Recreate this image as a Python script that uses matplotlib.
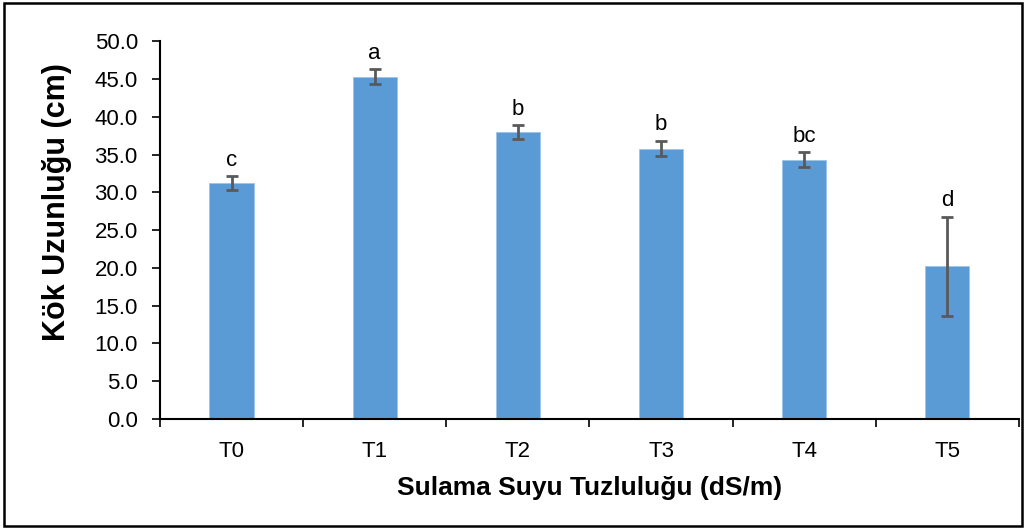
import matplotlib.pyplot as plt
import numpy as np
from matplotlib.patches import Rectangle

plt.rcParams['font.family'] = ['Liberation Sans', 'DejaVu Sans']

categories = ['T0', 'T1', 'T2', 'T3', 'T4', 'T5']
values = [31.2, 45.3, 38.0, 35.8, 34.3, 20.2]
errors = [0.9, 1.0, 0.9, 1.0, 1.0, 6.6]
letters = ['c', 'a', 'b', 'b', 'bc', 'd']

fig = plt.figure(figsize=(10.26, 5.29), dpi=100)
ax = fig.add_axes([0.156, 0.208, 0.837, 0.714])

x = np.arange(len(categories))
ax.bar(x, values, width=0.31, color='#5B9BD5', edgecolor='#9DC3E6', linewidth=0.6,
       yerr=errors, capsize=4,
       error_kw=dict(ecolor='#595959', elinewidth=2, capthick=2))

# significance letters above the error bars
for xi, v, e, lab in zip(x, values, errors, letters):
    ax.annotate(lab, (xi, v + e), xytext=(0, 4), textcoords='offset points',
                ha='center', va='bottom', fontsize=16)

ax.set_xlim(-0.5, len(categories) - 0.5)
ax.set_ylim(0, 50)
ax.set_yticks(np.arange(0, 50.1, 5))
ax.set_yticklabels([f'{t:.1f}' for t in np.arange(0, 50.1, 5)])
ax.set_xticks(x)
ax.set_xticklabels(categories)
ax.set_xticks(np.arange(-0.5, len(categories)), minor=True)
ax.tick_params(axis='x', which='major', length=0, pad=16, labelsize=16)
ax.tick_params(axis='x', which='minor', length=6, width=1.2, direction='out')
ax.tick_params(axis='y', length=6, width=1.2, labelsize=16, pad=10)

for s in ['top', 'right']:
    ax.spines[s].set_visible(False)
for s in ['left', 'bottom']:
    ax.spines[s].set_linewidth(1.5)

ax.set_ylabel('Kök Uzunluğu (cm)', fontsize=22, fontweight='bold')
ax.yaxis.set_label_coords(-0.103, 0.574)
ax.set_xlabel('Sulama Suyu Tuzluluğu (dS/m)', fontsize=19, fontweight='bold', labelpad=10)

fig.patches.append(Rectangle((0.004, 0.006), 0.992, 0.988, transform=fig.transFigure,
                             fill=False, edgecolor='black', linewidth=1.8))

fig.savefig('out.png', dpi=100)
